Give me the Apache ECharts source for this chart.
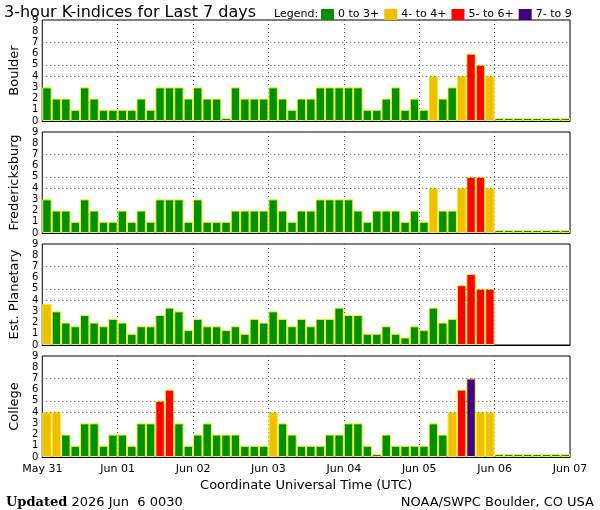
<!DOCTYPE html>
<html lang="en">
<head>
<meta charset="UTF-8">
<title>3-hour K-indices</title>
<script src="https://cdn.jsdelivr.net/npm/echarts@6/dist/echarts.min.js"></script>
<style>
    html, body { margin: 0; padding: 0; background: #fff; }
    #chart { width: 600px; height: 510px; }
</style>
</head>
<body>
<div id="chart"></div>
<script>
    // tick labels and categories
    var dayLabels = ['May 31', 'Jun 01', 'Jun 02', 'Jun 03', 'Jun 04', 'Jun 05', 'Jun 06', 'Jun 07'];
    var hours = ['00', '03', '06', '09', '12', '15', '18', '21'];
    var kTicks = [0, 1, 2, 3, 4, 5, 6, 7, 8, 9];
    var gridLevels = [4, 5, 7];
    var stations = ['Boulder', 'Fredericksburg', 'Est. Planetary', 'College'];
    var legendNames = ['0 to 3+', '4- to 4+', '5- to 6+', '7- to 9'];
    var kColors = ['#009000', '#f0c000', '#ff0000', '#400080'];

    // K values, one per 3 hours (last day not yet measured)
    var boulder = [3, 2, 2, 1, 3, 2, 1, 1, 1, 1, 2, 1, 3, 3, 3, 2, 3, 2, 2, 0, 3, 2, 2, 2,
        3, 2, 1, 2, 2, 3, 3, 3, 3, 3, 1, 1, 2, 3, 1, 2, 1, 4, 2, 3, 4, 6, 5, 4,
        0, 0, 0, 0, 0, 0, 0, 0];
    var fredericksburg = [3, 2, 2, 1, 3, 2, 1, 1, 2, 1, 2, 1, 3, 3, 3, 1, 3, 1, 1, 1, 2, 2, 2, 2,
        3, 2, 1, 2, 2, 3, 3, 3, 3, 2, 1, 2, 2, 2, 1, 2, 1, 4, 2, 2, 4, 5, 5, 4,
        0, 0, 0, 0, 0, 0, 0, 0];
    var planetary = [3.67, 3, 2, 1.67, 2.67, 2, 1.67, 2.33, 2, 1, 1.67, 1.67, 2.67, 3.33, 3, 1.33,
        2.33, 1.67, 1.67, 1.33, 1.67, 1, 2.33, 2, 3, 2.33, 1.67, 2.33, 1.67, 2.33, 2.33, 3.33,
        2.67, 2.67, 1, 1, 1.67, 1, 0.67, 1.67, 1.33, 3.33, 2, 2.33, 5.33, 6.33, 5, 5,
        null, null, null, null, null, null, null, null];
    var college = [4, 4, 2, 1, 3, 3, 1, 2, 2, 1, 3, 3, 5, 6, 3, 1, 2, 3, 2, 2, 2, 1, 1, 1,
        4, 3, 2, 1, 1, 1, 2, 2, 3, 3, 1, 0, 2, 1, 1, 1, 1, 3, 2, 4, 6, 7, 4, 4,
        0, 0, 0, 0, 0, 0, 0, 0];
    var stationData = [boulder, fredericksburg, planetary, college];

    var categories = [];
    dayLabels.slice(0, 7).forEach(function (d) {
        hours.forEach(function (h) { categories.push(d + ' ' + h); });
    });

    function kColor(v) {
        if (v >= 6.5) return kColors[3];
        if (v >= 4.5) return kColors[2];
        if (v >= 3.5) return kColors[1];
        return kColors[0];
    }

    var font = 'DejaVu Sans';
    var edge = '#f2f23c';
    var grids = [], xAxes = [], yAxes = [], series = [];

    stations.forEach(function (name, i) {
        var last = i === stations.length - 1;
        grids.push({
            left: 36, right: 30, top: 20 + i * 112, height: 101,
            show: true, borderColor: '#000', borderWidth: 1
        });
        // bars
        xAxes.push({
            type: 'category', gridIndex: i, data: categories,
            axisLine: {lineStyle: {color: '#000', width: 1}},
            axisTick: {inside: true, length: 2, interval: 0, alignWithLabel: true,
                lineStyle: {color: '#f0f080'}},
            axisLabel: {show: false},
            splitLine: {show: false}
        });
        // day lines + date labels
        xAxes.push({
            type: 'value', gridIndex: i, min: 0, max: 7, interval: 1, position: 'bottom',
            axisLine: {show: false},
            axisTick: {show: false},
            splitLine: {show: true, showMinLine: false, showMaxLine: false,
                lineStyle: {color: '#555', type: [1, 3], width: 1}},
            axisLabel: {
                show: last, margin: 7, color: '#000', fontFamily: font, fontSize: 11,
                formatter: function (v) { return dayLabels[v]; }
            },
            name: last ? 'Coordinate Universal Time (UTC)' : '',
            nameLocation: 'middle', nameGap: 22,
            nameTextStyle: {color: '#000', fontFamily: font, fontSize: 13}
        });
        yAxes.push({
            type: 'value', gridIndex: i, min: 0, max: 9, interval: 1,
            axisLine: {show: false},
            axisTick: {show: false},
            splitLine: {show: false},
            axisLabel: {color: '#000', fontFamily: font, fontSize: 10, margin: 4,
                formatter: function (v) { return kTicks[v]; }},
            name: name, nameLocation: 'middle', nameRotate: 90, nameGap: 19,
            nameTextStyle: {color: '#000', fontFamily: font, fontSize: 13}
        });
        series.push({
            type: 'line', xAxisIndex: 2 * i, yAxisIndex: i, data: [], z: 1,
            silent: true,
            markLine: {
                silent: true, symbol: 'none', label: {show: false},
                lineStyle: {color: '#555', type: [1, 3], width: 1},
                data: gridLevels.map(function (v) { return {yAxis: v}; })
            }
        });
        series.push({
            type: 'bar', name: name, xAxisIndex: 2 * i, yAxisIndex: i,
            data: stationData[i], barCategoryGap: '0%', barMinHeight: 3, z: 3,
            itemStyle: {
                color: function (p) { return kColor(p.value); },
                borderColor: edge, borderWidth: 1
            }
        });
    });

    // legend entries only
    legendNames.forEach(function (n, j) {
        series.push({
            type: 'line', name: n, xAxisIndex: 0, yAxisIndex: 0, data: [],
            itemStyle: {color: kColors[j]}, lineStyle: {color: kColors[j]}
        });
    });

    var chart = echarts.init(document.getElementById('chart'));
    chart.setOption({
        animation: false,
        backgroundColor: '#fff',
        title: [
            {text: '3-hour K-indices for Last 7 days', left: -1, top: 0,
                textStyle: {color: '#000', fontFamily: font, fontSize: 16, fontWeight: 'normal'}},
            {text: 'Legend:', left: 269, top: 4,
                textStyle: {color: '#000', fontFamily: font, fontSize: 11, fontWeight: 'normal'}},
            {text: '{b|Updated} 2026 Jun  6 0030', left: 1, top: 491,
                textStyle: {color: '#000', fontFamily: font, fontSize: 13, fontWeight: 'normal',
                    rich: {b: {fontFamily: 'DejaVu Serif', fontWeight: 'bold', fontSize: 13, color: '#000'}}}},
            {text: 'NOAA/SWPC Boulder, CO USA', right: 1, top: 491,
                textStyle: {color: '#000', fontFamily: font, fontSize: 13, fontWeight: 'normal'}}
        ],
        legend: {
            data: legendNames, left: 316, top: 4, icon: 'rect',
            itemWidth: 13, itemHeight: 11, itemGap: 5, selectedMode: false,
            textStyle: {color: '#000', fontFamily: font, fontSize: 11, padding: [0, 0, 0, -1]}
        },
        grid: grids,
        xAxis: xAxes,
        yAxis: yAxes,
        series: series
    });
</script>
</body>
</html>
